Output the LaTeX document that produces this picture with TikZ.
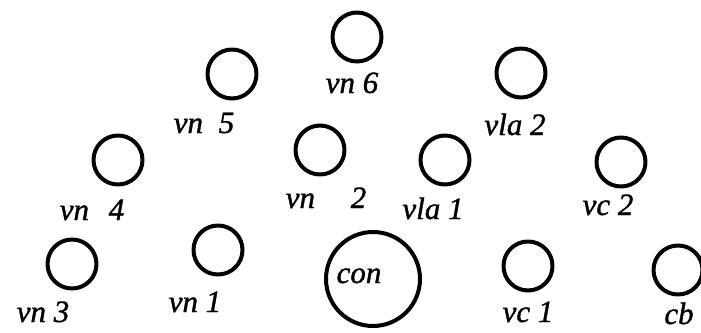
\documentclass[tikz,border=0pt]{standalone}
\usepackage{fontspec}
\setmainfont{Liberation Serif}
\usetikzlibrary{positioning}

\begin{document}
\begin{tikzpicture}[x=1pt,y=-1pt,line cap=round,line join=round]
\useasboundingbox[fill=white] (0,0) rectangle (701,332);
\tikzset{seat/.style={draw=black,circle,line width=4pt,minimum size=49pt,inner sep=0pt},bigseat/.style={seat,minimum size=94pt},part/.style={font=\fontsize{31}{33}\selectfont\itshape\addfontfeature{FakeBold=1.2},inner sep=0pt,anchor=base}}
% back row
\node[seat] (vn6) at (357,37) {};
\node[seat] (vn5) at (232,74) {};
\node[seat] (vla2) at (521,73) {};
% middle row
\node[seat] (vn4) at (118,160) {};
\node[seat] (vn2) at (320,150) {};
\node[seat] (vla1) at (445,160) {};
\node[seat] (vc2) at (621,162) {};
% front row
\node[seat] (vn3) at (72,264) {};
\node[seat] (vn1) at (218,250) {};
\node[bigseat] (con) at (373,279) {};
\node[seat] (vc1) at (528,266) {};
\node[seat] (cb) at (678,270) {};
% labels, placed on their baselines
\node[part] (vn6lbl) at (352,93) {vn 6};
\node[part] (vn5lbl) at (204,133) {vn\hspace{8pt} 5};
\node[part] (vla2lbl) at (515,135) {vla 2};
\node[part] (vn4lbl) at (92,220) {vn\hspace{12pt} 4};
\node[part] (vn2lbl) at (326,208) {vn\hspace{28pt} 2};
\node[part] (vla1lbl) at (433,219) {vla 1};
\node[part] (vc2lbl) at (608,215) {vc 2};
\node[part] (vn3lbl) at (43,322) {vn 3};
\node[part] (vn1lbl) at (195,312) {vn 1};
\node[part] (conlbl) at (359,283) {con};
\node[part] (vc1lbl) at (528,322) {vc 1};
\node[part] (cblbl) at (679,324) {cb};
\end{tikzpicture}
\end{document}
